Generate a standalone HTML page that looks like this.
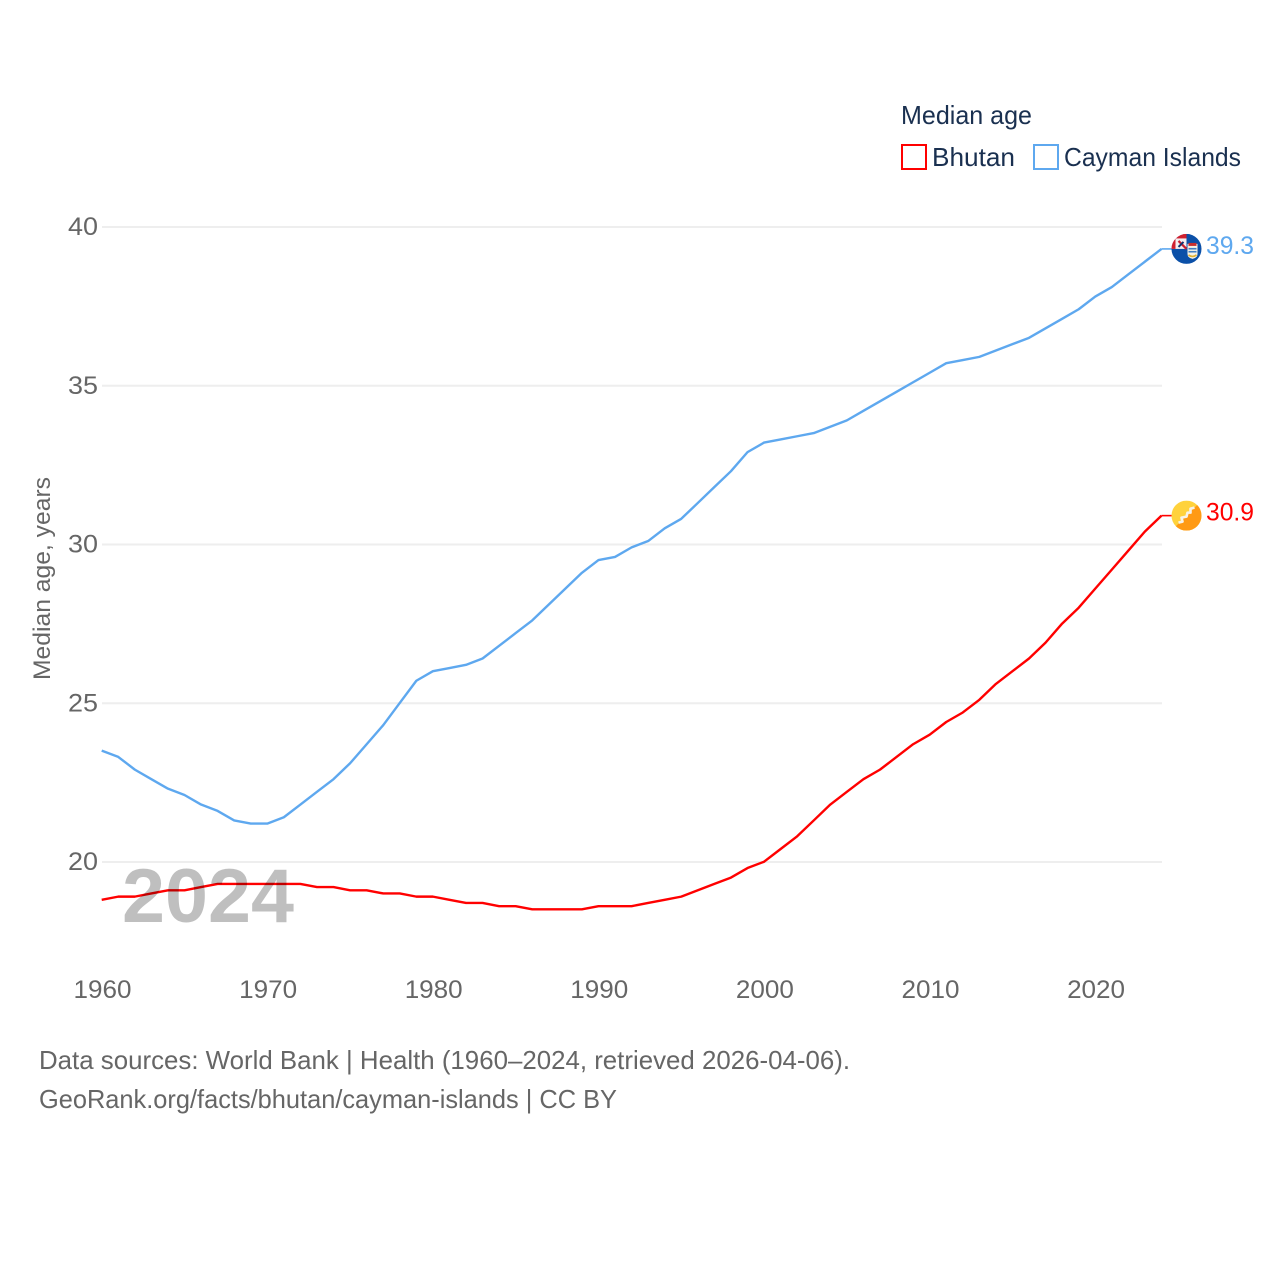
<!DOCTYPE html>
<html lang="en">
<head>
<meta charset="utf-8">
<title>Median age: Bhutan and Cayman Islands</title>
<style>
html,body{margin:0;padding:0;background:#fff}
svg{display:block}
text{font-family:"Liberation Sans",sans-serif}
</style>
</head>
<body>
<svg id="chart" xmlns="http://www.w3.org/2000/svg" width="1280" height="1280" viewBox="0 0 1280 1280">
  <rect width="1280" height="1280" fill="#fff"/>
  <g id="grid"></g>
  <g id="yticks"></g>
  <g id="xticks"></g>
  <text transform="translate(50,680) rotate(-90)" font-size="24" fill="#666" textLength="203" lengthAdjust="spacingAndGlyphs">Median age, years</text>

  <g>
    <text x="901" y="124" font-size="26" fill="#1a3050" textLength="131" lengthAdjust="spacingAndGlyphs">Median age</text>
    <g>
      <rect x="902" y="145" width="24" height="24" fill="#fff" stroke="#ff0000" stroke-width="2"/>
      <text x="932" y="166" font-size="26" fill="#1a3050" textLength="83" lengthAdjust="spacingAndGlyphs">Bhutan</text>
    </g>
    <g>
      <rect x="1034" y="145" width="24" height="24" fill="#fff" stroke="#5ea8ef" stroke-width="2"/>
      <text x="1064" y="166" font-size="26" fill="#1a3050" textLength="177" lengthAdjust="spacingAndGlyphs">Cayman Islands</text>
    </g>
  </g>

  <g id="series"></g>

  <text x="122" y="922" font-size="76" font-weight="700" fill="#000" fill-opacity="0.25" textLength="172" lengthAdjust="spacingAndGlyphs">2024</text>

  <g id="endmarks"></g>

  <g>
    <text x="39" y="1069" font-size="26" fill="#666" textLength="811" lengthAdjust="spacingAndGlyphs">Data sources: World Bank | Health (1960–2024, retrieved 2026-04-06).</text>
    <text x="39" y="1108" font-size="26" fill="#666" textLength="578" lengthAdjust="spacingAndGlyphs">GeoRank.org/facts/bhutan/cayman-islands | CC BY</text>
  </g>
</svg>
<script>
const years = [1960,1961,1962,1963,1964,1965,1966,1967,1968,1969,1970,1971,1972,1973,1974,1975,1976,1977,1978,1979,1980,1981,1982,1983,1984,1985,1986,1987,1988,1989,1990,1991,1992,1993,1994,1995,1996,1997,1998,1999,2000,2001,2002,2003,2004,2005,2006,2007,2008,2009,2010,2011,2012,2013,2014,2015,2016,2017,2018,2019,2020,2021,2022,2023,2024];
const caymanValues = [23.5,23.3,22.9,22.6,22.3,22.1,21.8,21.6,21.3,21.2,21.2,21.4,21.8,22.2,22.6,23.1,23.7,24.3,25.0,25.7,26.0,26.1,26.2,26.4,26.8,27.2,27.6,28.1,28.6,29.1,29.5,29.6,29.9,30.1,30.5,30.8,31.3,31.8,32.3,32.9,33.2,33.3,33.4,33.5,33.7,33.9,34.2,34.5,34.8,35.1,35.4,35.7,35.8,35.9,36.1,36.3,36.5,36.8,37.1,37.4,37.8,38.1,38.5,38.9,39.3];
const bhutanValues = [18.8,18.9,18.9,19.0,19.1,19.1,19.2,19.3,19.3,19.3,19.3,19.3,19.3,19.2,19.2,19.1,19.1,19.0,19.0,18.9,18.9,18.8,18.7,18.7,18.6,18.6,18.5,18.5,18.5,18.5,18.6,18.6,18.6,18.7,18.8,18.9,19.1,19.3,19.5,19.8,20.0,20.4,20.8,21.3,21.8,22.2,22.6,22.9,23.3,23.7,24.0,24.4,24.7,25.1,25.6,26.0,26.4,26.9,27.5,28.0,28.6,29.2,29.8,30.4,30.9];
const yTickValues = [20,25,30,35,40];
const xTickValues = [1960,1970,1980,1990,2000,2010,2020];

const NS = 'http://www.w3.org/2000/svg';
const xScale = function (year) { return 101.7 + (year - 1960) * (1161.5 - 101.7) / 64; };
const yScale = function (value) { return 862 - (value - 20) * (862 - 227) / 20; };

function svgEl(tag, attrs, parent) {
  const el = document.createElementNS(NS, tag);
  for (const key in attrs) el.setAttribute(key, attrs[key]);
  parent.appendChild(el);
  return el;
}

const grid = document.getElementById('grid');
const yticks = document.getElementById('yticks');
const xticks = document.getElementById('xticks');
const series = document.getElementById('series');
const endmarks = document.getElementById('endmarks');

yTickValues.forEach(function (tick) {
  const line = svgEl('line', {x1: 102, x2: 1162, y1: yScale(tick), y2: yScale(tick), stroke: '#eeeeee', 'stroke-width': 2}, grid);
  
  
  const label = svgEl('text', {x: 98, y: yScale(tick) + 8, 'text-anchor': 'end', 'font-size': 25, fill: '#666', textLength: 30, lengthAdjust: 'spacingAndGlyphs'}, yticks);
  label.textContent = String(tick);
  
  
});

xTickValues.forEach(function (tick) {
  const label = svgEl('text', {x: xScale(tick) + 0.8, y: 998, 'text-anchor': 'middle', 'font-size': 25, fill: '#666', textLength: 58, lengthAdjust: 'spacingAndGlyphs'}, xticks);
  label.textContent = String(tick);
  
  
});

function linePath(values) {
  return values.map(function (v, i) {
    return (i ? 'L' : 'M') + xScale(years[i]).toFixed(2) + ' ' + (yScale(v) - 0.3).toFixed(2);
  }).join('');
}

const caymanLine = svgEl('path', {d: linePath(caymanValues), fill: 'none', stroke: '#5ea8ef', 'stroke-width': 2.4, 'stroke-linejoin': 'round'}, series);



const bhutanLine = svgEl('path', {d: linePath(bhutanValues), fill: 'none', stroke: '#ff0000', 'stroke-width': 2.4, 'stroke-linejoin': 'round'}, series);



/* end-of-line connectors, flags and value labels */
const lastIndex = years.length - 1;
const lastX = xScale(years[lastIndex]);
const flagX = 1186.5;
const caymanY = yScale(caymanValues[lastIndex]) - 0.3;
const bhutanY = yScale(bhutanValues[lastIndex]) - 0.3;

const caymanStub = svgEl('line', {x1: lastX, x2: flagX - 12, y1: caymanY, y2: caymanY, stroke: '#5ea8ef', 'stroke-width': 1.6}, endmarks);


const bhutanStub = svgEl('line', {x1: lastX, x2: flagX - 12, y1: bhutanY, y2: bhutanY, stroke: '#ff0000', 'stroke-width': 1.6}, endmarks);



const defs = svgEl('defs', {}, endmarks);
const flagClip = svgEl('clipPath', {id: 'flag-clip'}, defs);
svgEl('circle', {cx: 0, cy: 0, r: 15}, flagClip);

/* Cayman flag */
const caymanFlag = svgEl('g', {transform: 'translate(' + flagX + ',' + caymanY + ')'}, endmarks);


const caymanInner = svgEl('g', {'clip-path': 'url(#flag-clip)'}, caymanFlag);
svgEl('rect', {x: -15, y: -15, width: 30, height: 30, fill: '#0b50a8'}, caymanInner);
svgEl('rect', {x: -15, y: -15, width: 15, height: 15, fill: '#f4eef0'}, caymanInner);
svgEl('rect', {x: -15, y: -15, width: 15, height: 4.5, fill: '#d0202f'}, caymanInner);
svgEl('rect', {x: -15, y: -13, width: 4, height: 13, fill: '#d0202f'}, caymanInner);
svgEl('path', {d: 'M-8 -8L0 0', stroke: '#c8202f', 'stroke-width': 2.2, fill: 'none'}, caymanInner);
svgEl('path', {d: 'M-8 -2L-3 -7', stroke: '#12336e', 'stroke-width': 2, fill: 'none'}, caymanInner);
svgEl('path', {d: 'M1 -5H11V5Q11 9 6 10Q1 9 1 5Z', fill: '#f6f2e6'}, caymanInner);
svgEl('rect', {x: 2, y: -6, width: 8, height: 3, fill: '#c8302f'}, caymanInner);
svgEl('rect', {x: 2, y: -1, width: 8, height: 1.6, fill: '#3f7fc4'}, caymanInner);
svgEl('rect', {x: 2, y: 2, width: 8, height: 1.6, fill: '#3f7fc4'}, caymanInner);
svgEl('path', {d: 'M2 6Q6 9 10 6', stroke: '#e0b030', 'stroke-width': 1.6, fill: 'none'}, caymanInner);

/* Bhutan flag */
const bhutanFlag = svgEl('g', {transform: 'translate(' + flagX + ',' + bhutanY + ')'}, endmarks);


const bhutanInner = svgEl('g', {'clip-path': 'url(#flag-clip)'}, bhutanFlag);
svgEl('rect', {x: -15, y: -15, width: 30, height: 30, fill: '#ffd23c'}, bhutanInner);
svgEl('path', {d: 'M15 -15L15 15L-15 15Z', fill: '#ff9a14'}, bhutanInner);
svgEl('path', {d: 'M-8 7L-4 6L-5 2L0 1L1 -3L4 -3L4 -7L8 -8', stroke: '#f7f2e8', 'stroke-width': 2.6, fill: 'none', 'stroke-linejoin': 'round'}, bhutanInner);

const caymanValueLabel = svgEl('text', {x: 1206, y: caymanY + 5, 'font-size': 25, fill: '#5ea8ef', textLength: 48, lengthAdjust: 'spacingAndGlyphs'}, endmarks);
caymanValueLabel.textContent = caymanValues[lastIndex].toFixed(1);



const bhutanValueLabel = svgEl('text', {x: 1206, y: bhutanY + 5, 'font-size': 25, fill: '#ff0000', textLength: 48, lengthAdjust: 'spacingAndGlyphs'}, endmarks);
bhutanValueLabel.textContent = bhutanValues[lastIndex].toFixed(1);


</script>
</body>
</html>
